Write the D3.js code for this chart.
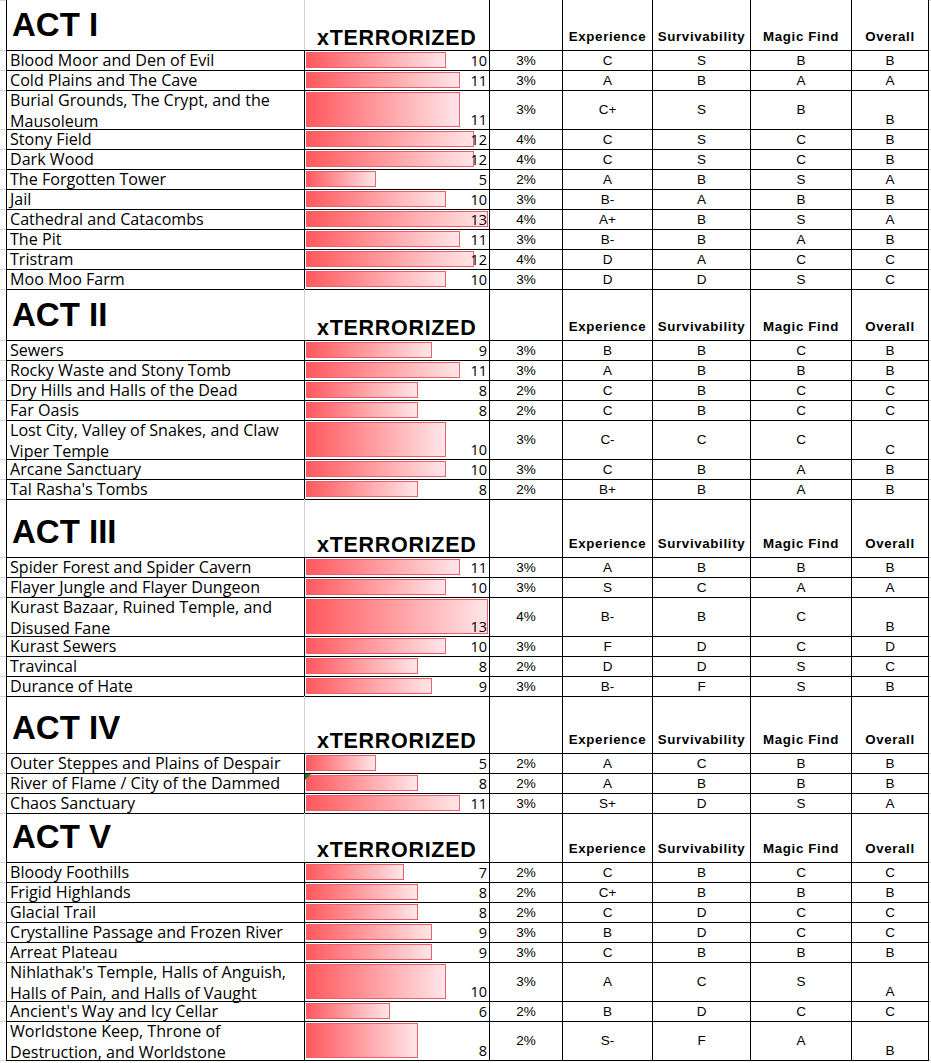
<!DOCTYPE html>
<html><head><meta charset="utf-8">
<script src="https://cdn.jsdelivr.net/npm/d3@7"></script>
<style>body{margin:0;background:#fff}</style>
</head><body>
<svg id="c" width="931" height="1063"></svg>
<script>
// ---------------- DATA ----------------
const acts = ["ACT I", "ACT II", "ACT III", "ACT IV", "ACT V"];
const valueHeader = "xTERRORIZED";
const gradeHeaders = ["Experience", "Survivability", "Magic Find", "Overall"];

const areas = [
  "Blood Moor and Den of Evil", "Cold Plains and The Cave", "Burial Grounds, The Crypt, and the Mausoleum",
  "Stony Field", "Dark Wood", "The Forgotten Tower", "Jail", "Cathedral and Catacombs", "The Pit", "Tristram", "Moo Moo Farm",
  "Sewers", "Rocky Waste and Stony Tomb", "Dry Hills and Halls of the Dead", "Far Oasis",
  "Lost City, Valley of Snakes, and Claw Viper Temple", "Arcane Sanctuary", "Tal Rasha's Tombs",
  "Spider Forest and Spider Cavern", "Flayer Jungle and Flayer Dungeon", "Kurast Bazaar, Ruined Temple, and Disused Fane",
  "Kurast Sewers", "Travincal", "Durance of Hate",
  "Outer Steppes and Plains of Despair", "River of Flame / City of the Dammed", "Chaos Sanctuary",
  "Bloody Foothills", "Frigid Highlands", "Glacial Trail", "Crystalline Passage and Frozen River", "Arreat Plateau",
  "Nihlathak's Temple, Halls of Anguish, Halls of Pain, and Halls of Vaught", "Ancient's Way and Icy Cellar",
  "Worldstone Keep, Throne of Destruction, and Worldstone"
];
const actIndex = [0,0,0,0,0,0,0,0,0,0,0, 1,1,1,1,1,1,1, 2,2,2,2,2,2, 3,3,3, 4,4,4,4,4,4,4,4];
const terrorized = [10,11,11,12,12,5,10,13,11,12,10, 9,11,8,8,10,10,8, 11,10,13,10,8,9, 5,8,11, 7,8,8,9,9,10,6,8];
const share = ["3%","3%","3%","4%","4%","2%","3%","4%","3%","4%","3%",
  "3%","3%","2%","2%","3%","3%","2%",
  "3%","3%","4%","3%","2%","3%",
  "2%","2%","3%",
  "2%","2%","2%","3%","3%","3%","2%","2%"];
const experience = ["C","A","C+","C","C","A","B-","A+","B-","D","D",
  "B","A","C","C","C-","C","B+",
  "A","S","B-","F","D","B-",
  "A","A","S+",
  "C","C+","C","B","C","A","B","S-"];
const survivability = ["S","B","S","S","S","B","A","B","B","A","D",
  "B","B","B","B","C","B","B",
  "B","C","B","D","D","F",
  "C","B","D",
  "B","B","D","D","B","C","D","F"];
const magicFind = ["B","A","B","C","C","S","B","S","A","C","S",
  "C","B","C","C","C","A","A",
  "B","A","C","C","S","S",
  "B","B","S",
  "C","B","C","C","B","S","C","A"];
const overall = ["B","A","B","B","B","A","B","A","B","C","C",
  "B","B","C","C","C","B","B",
  "B","A","B","D","C","B",
  "B","B","A",
  "C","B","C","C","B","A","C","B"];
const flaggedCells = ["River of Flame / City of the Dammed"];

// ---------------- LAYOUT ----------------
const svg = d3.select("#c");
const colX = [6.5, 304, 489, 562, 652, 750, 851, 928];
const headerH = [50, 51, 58, 57, 49];
const bodyFont = "'Open Sans', sans-serif";
const arialFont = "'Liberation Sans', Arial, sans-serif";
const bodySize = 16.1;
const maxTextW = 292;

const x = d3.scaleLinear().domain([0, 13]).range([306, 488]);

// measure/wrap helper
const meas = svg.append("text").style("font-family", bodyFont).style("font-size", bodySize + "px");
function wrap(s) {
  const words = s.split(" ");
  const lines = [];
  let cur = "";
  words.forEach(w => {
    const test = cur ? cur + " " + w : w;
    meas.text(test);
    if (meas.node().getComputedTextLength() > maxTextW && cur) { lines.push(cur); cur = w; }
    else cur = test;
  });
  lines.push(cur);
  return lines;
}

// build layout
const blocks = [];
let y = 0;
acts.forEach((act, a) => {
  blocks.push({type: "header", act, top: y, h: headerH[a]});
  y += headerH[a];
  areas.forEach((name, i) => {
    if (actIndex[i] !== a) return;
    const lines = wrap(name);
    const h = lines.length > 1 ? 39 : 20;
    blocks.push({type: "row", i, name, lines, top: y, h});
    y += h;
  });
});
meas.remove();

// gradient
const defs = svg.append("defs");
const grad = defs.append("linearGradient").attr("id", "barGrad").attr("x1", 0).attr("x2", 1).attr("y1", 0).attr("y2", 0);
grad.append("stop").attr("offset", 0).attr("stop-color", "#ff585d");
grad.append("stop").attr("offset", 1).attr("stop-color", "#ffe6e8");

const gGrid = svg.append("g");
const gBars = svg.append("g");
const gText = svg.append("g");

// faint sheet gridlines in margins
blocks.forEach(b => {
  [b.top, b.top + b.h].forEach(yy => {
    gGrid.append("line").attr("x1", 0).attr("x2", 6).attr("y1", yy + 0.5).attr("y2", yy + 0.5).attr("stroke", "#d4d4d4");
    gGrid.append("line").attr("x1", 929).attr("x2", 931).attr("y1", yy + 0.5).attr("y2", yy + 0.5).attr("stroke", "#d4d4d4");
  });
});

blocks.forEach(b => {
  const bot = b.top + b.h;
  // vertical lines
  colX.forEach((cx, k) => {
    const grey = b.type === "header" && k === 1;
    gGrid.append("line").attr("x1", cx + (k === 0 ? 0 : 0.5)).attr("x2", cx + (k === 0 ? 0 : 0.5))
      .attr("y1", b.top).attr("y2", bot + 1)
      .attr("stroke", grey ? "#d0d0d0" : "#000").attr("stroke-width", 1);
  });
  if (b.type === "header") {
    gText.append("text").attr("x", 12).attr("y", bot - 14.5)
      .style("font-family", arialFont).style("font-weight", 700).style("font-size", "33px").text(b.act);
    gText.append("text").attr("x", 317).attr("y", bot - 5.5)
      .style("font-family", arialFont).style("font-weight", 700).style("font-size", "21.5px")
      .style("letter-spacing", "0.7px").text(valueHeader);
    gradeHeaders.forEach((t, k) => {
      gText.append("text").attr("x", (colX[3 + k] + colX[4 + k]) / 2 + 0.5).attr("y", bot - 9.5)
        .attr("text-anchor", "middle")
        .style("font-family", arialFont).style("font-weight", 700).style("font-size", "13.3px")
        .style("letter-spacing", "0.65px").text(t);
    });
  } else {
    const i = b.i;
    const tall = b.lines.length > 1;
    // name
    b.lines.forEach((ln, li) => {
      gText.append("text").attr("x", 10).attr("y", tall ? b.top + 15.5 + li * 21 : b.top + 16)
        .style("font-family", bodyFont).style("font-size", bodySize + "px").style("fill", "#000").text(ln);
    });
    // bar
    gBars.append("rect")
      .attr("x", x(0) + 0.5).attr("y", b.top + 2.5)
      .attr("width", x(terrorized[i]) - x(0) - 1).attr("height", b.h - 5)
      .attr("fill", "url(#barGrad)").attr("stroke", "#f0606a").attr("stroke-width", 1);
    if (flaggedCells.includes(b.name)) {
      gBars.append("path")
        .attr("d", `M${colX[1] + 1},${b.top + 1} l6,0 l-6,6 z`).attr("fill", "#217a21");
    }
    gText.append("text").attr("x", 487).attr("y", bot - 4.5).attr("text-anchor", "end")
      .style("font-family", bodyFont).style("font-size", "14.5px").text(terrorized[i]);
    const midY = tall ? b.top + b.h / 2 + 4 : bot - 5;
    const cells = [share[i], experience[i], survivability[i], magicFind[i], overall[i]];
    cells.forEach((t, k) => {
      const yy = (k === 4) ? bot - 5 : midY;
      gText.append("text").attr("x", (colX[2 + k] + colX[3 + k]) / 2 + 0.5).attr("y", yy)
        .attr("text-anchor", "middle")
        .style("font-family", arialFont).style("font-size", "13.5px").text(t);
    });
  }
  // horizontal borders
  gGrid.append("line").attr("x1", colX[0]).attr("x2", colX[7] + 1).attr("y1", bot + 0.5).attr("y2", bot + 0.5)
    .attr("stroke", "#000").attr("stroke-width", 1);
});
</script></body></html>
